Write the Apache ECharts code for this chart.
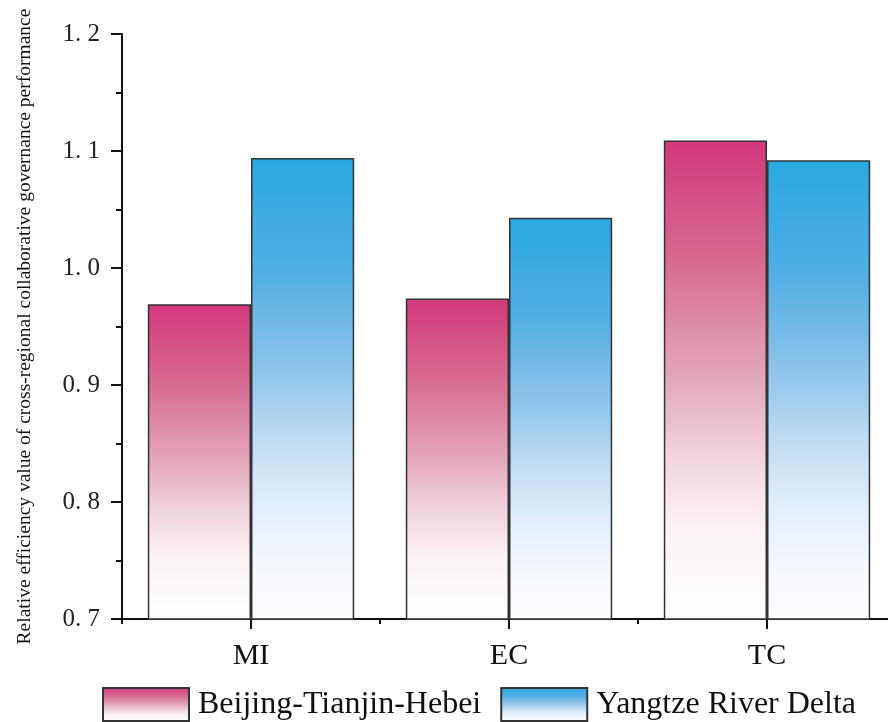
<!DOCTYPE html>
<html>
<head>
<meta charset="utf-8">
<script src="https://cdn.jsdelivr.net/npm/echarts@6/dist/echarts.min.js"></script>
<style>
  html, body { margin: 0; padding: 0; background: #ffffff; overflow: hidden; width: 888px; height: 722px; }
  #chart { width: 900px; height: 722px; }
</style>
</head>
<body>
<div id="chart"></div>
<script>
const categories = ['MI', 'EC', 'TC'];
const seriesNames = ['Beijing-Tianjin-Hebei', 'Yangtze River Delta'];
const bthValues = [0.969, 0.974, 1.109];
const yrdValues = [1.094, 1.043, 1.092];
const yMin = 0.7;
const yMax = 1.2;
const yInterval = 0.1;
const yAxisTitle = 'Relative efficiency value of cross-regional collaborative governance performance';

const serif = '"Liberation Serif", "Times New Roman", "DejaVu Serif", serif';

function grad(stops) {
  return new echarts.graphic.LinearGradient(0, 0, 0, 1,
    stops.map(s => ({ offset: s[0], color: s[1] })));
}
const pinkStops = [[0, '#d2387a'], [0.25, '#d76a91'], [0.5, '#e3a8bb'], [0.65, '#f0d2dc'], [0.8, '#fbf2f5'], [1, '#ffffff']];
const blueStops = [[0, '#29a9e1'], [0.25, '#52aee3'], [0.45, '#8cc3ea'], [0.6, '#bcdaf2'], [0.75, '#e3eefa'], [0.9, '#f6f9fe'], [1, '#fdfdff']];

const chart = echarts.init(document.getElementById('chart'), null, { renderer: 'canvas' });

chart.setOption({
  animation: false,
  backgroundColor: '#ffffff',
  grid: { left: 122, top: 34, width: 774, height: 585, containLabel: false },
  legend: {
    data: seriesNames,
    left: 102,
    top: 687,
    padding: 0,
    itemWidth: 86,
    itemHeight: 33,
    itemGap: 19,
    icon: 'rect',
    textStyle: { fontFamily: serif, fontSize: 32, color: '#111', padding: [0, 0, 0, 4] }
  },
  xAxis: [
    {
      type: 'category',
      data: categories,
      axisLine: { show: true, lineStyle: { color: '#111', width: 2 } },
      axisTick: { show: true, alignWithLabel: true, length: 10, lineStyle: { color: '#111', width: 2 } },
      axisLabel: { fontFamily: serif, fontSize: 30, color: '#111', margin: 22 },
      splitLine: { show: false }
    },
    {
      type: 'category',
      data: categories,
      position: 'bottom',
      axisLine: { show: false },
      axisTick: { show: true, length: 5, lineStyle: { color: '#111', width: 2 } },
      axisLabel: { show: false },
      splitLine: { show: false }
    }
  ],
  yAxis: {
    type: 'value',
    min: yMin,
    max: yMax,
    interval: yInterval,
    name: yAxisTitle,
    nameLocation: 'middle',
    nameGap: 87,
    nameTextStyle: { fontFamily: serif, fontSize: 19.5, color: '#111' },
    axisLine: { show: true, lineStyle: { color: '#111', width: 2 } },
    axisTick: { show: true, length: 11, lineStyle: { color: '#111', width: 2 } },
    minorTick: { show: true, splitNumber: 2, length: 6, lineStyle: { color: '#111', width: 2 } },
    axisLabel: {
      fontFamily: serif, fontSize: 25, color: '#222', margin: 22,
      formatter: v => v.toFixed(1).replace('.', '. ')
    },
    splitLine: { show: false }
  },
  series: [
    {
      name: seriesNames[0],
      type: 'bar',
      xAxisIndex: 0,
      data: bthValues,
      barGap: '0%',
      barCategoryGap: '20%',
      itemStyle: { color: grad(pinkStops), borderColor: '#333', borderWidth: 1.5 }
    },
    {
      name: seriesNames[1],
      type: 'bar',
      xAxisIndex: 0,
      data: yrdValues,
      barGap: '0%',
      barCategoryGap: '20%',
      itemStyle: { color: grad(blueStops), borderColor: '#333', borderWidth: 1.5 }
    }
  ]
});
</script>
</body>
</html>
